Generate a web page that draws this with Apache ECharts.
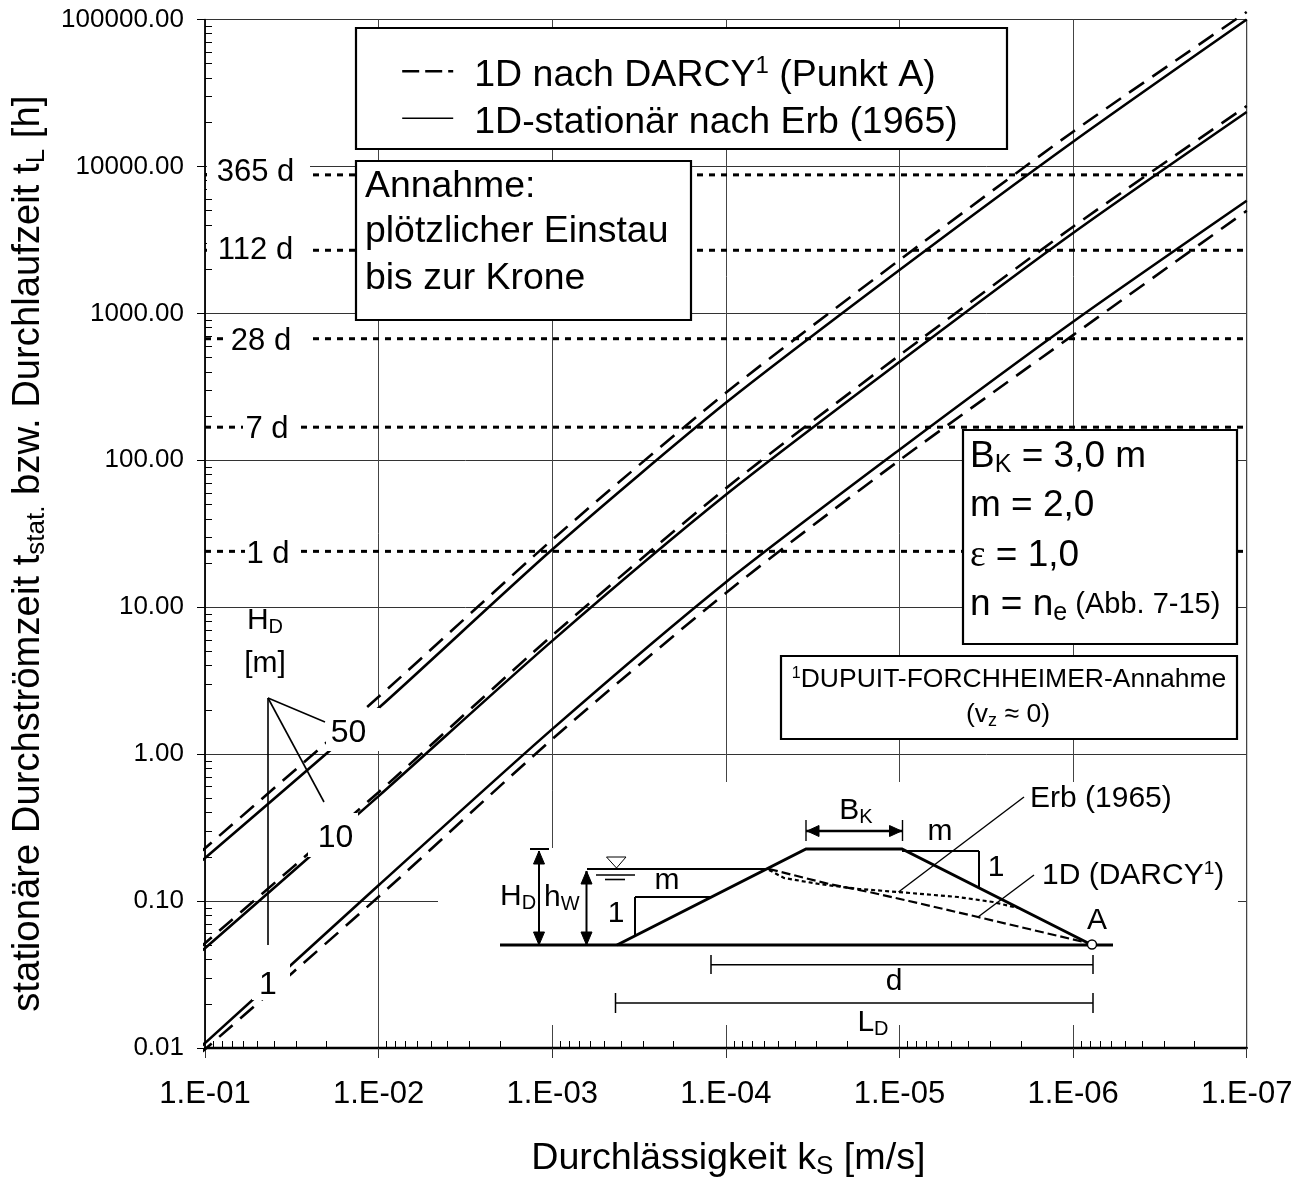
<!DOCTYPE html>
<html>
<head>
<meta charset="utf-8">
<script src="https://cdn.jsdelivr.net/npm/echarts@6/dist/echarts.min.js"></script>
<style>html,body{margin:0;padding:0;background:#fff}#c{width:1291px;height:1179px}</style>
</head>
<body>
<div id="c"></div>
<script>
// Data
const kValues   = [0.11, 0.1, 0.01, 0.001, 0.0001, 0.00001, 0.000001, 0.0000001];
const erb50     = [0.18, 0.196, 2.06, 24.7, 246, 1972, 14730, 100000];
const darcy50   = [0.21, 0.229, 2.455, 28.8, 288, 2305, 17230, 112500];
const erb10     = [0.044, 0.0478, 0.518, 5.9, 58.2, 466, 3520, 23450];
const darcy10   = [0.0475, 0.0517, 0.551, 6.43, 64.4, 518, 3885, 25770];
const erb1      = [0.0099, 0.0108, 0.128, 1.48, 14.8, 118, 877, 5840];
const darcy1    = [0.009, 0.0098, 0.107, 1.265, 12.5, 100, 711, 4992];
const dayHours  = [8760, 2688, 672, 168, 24];
const dayLabels = ['365 d', '112 d', '28 d', '7 d', '1 d'];
const xTickLabels = ['1.E-07','1.E-06','1.E-05','1.E-04','1.E-03','1.E-02','1.E-01'];
const yTickLabels = ['0.01','0.10','1.00','10.00','100.00','1000.00','10000.00','100000.00'];
const minorMultipliers = [2,3,4,5,6,7,8,9];
const xDecades = [-7,-6,-5,-4,-3,-2];
const yDecades = [-2,-1,0,1,2,3,4];
const nameDarcy = '1D nach DARCY (Punkt A)';
const nameErb = '1D-stationär nach Erb (1965)';

const FONT = '"Liberation Sans", Arial, sans-serif';
const pairs = ys => kValues.map((k, i) => [k, ys[i]]);
const minorOf = decades => decades.flatMap(e => minorMultipliers.map(m => m * Math.pow(10, e)));

const curve = (name, ys, dashed) => ({
  name, type: 'line', data: pairs(ys), symbol: 'none', clip: false, silent: true, z: 3, smooth: 0.25,
  itemStyle: { color: '#000' },
  lineStyle: { color: '#000', width: 2.6, type: dashed ? [18, 10] : 'solid' }
});
const dayLine = h => ({
  type: 'line', data: [[0.1, h], [1e-7, h]], symbol: 'none', silent: true, z: 2,
  itemStyle: { color: '#000' },
  lineStyle: { color: '#000', width: 3, type: [6, 6] }
});

// annotation helpers
const el = [];
const rich = size => ({
  a: { fontSize: size, fontFamily: FONT, lineHeight: size * 1.1, fill: '#000', color: '#000' },
  s: { fontSize: Math.round(size * 0.68), fontFamily: FONT, lineHeight: Math.round(size * 0.68), verticalAlign: 'bottom', color: '#000', fill: '#000' },
  u: { fontSize: Math.round(size * 0.62), fontFamily: FONT, lineHeight: Math.round(size * 0.62), verticalAlign: 'top', color: '#000', fill: '#000' },
  g: { fontSize: size, fontFamily: '"Liberation Serif", serif', lineHeight: size * 1.1, color: '#000', fill: '#000' },
  m: { fontSize: Math.round(size * 0.79), fontFamily: FONT, lineHeight: size * 1.1, color: '#000', fill: '#000' }
});
const text = (x, y, t, size, align) => el.push({
  type: 'text', z: 40, silent: true,
  style: { x, y, text: t, rich: rich(size), align: align || 'left', verticalAlign: 'middle', fill: '#000',
           fontFamily: FONT, fontSize: size }
});
const mask = (x, y, w, h) => el.push({
  type: 'rect', z: 10, silent: true, shape: { x, y, width: w, height: h }, style: { fill: '#fff' }
});
const box = (x, y, w, h) => el.push({
  type: 'rect', z: 20, silent: true, shape: { x, y, width: w, height: h },
  style: { fill: '#fff', stroke: '#000', lineWidth: 2.2 }
});
const ln = (x1, y1, x2, y2, w, dash) => el.push({
  type: 'line', z: 30, silent: true, shape: { x1, y1, x2, y2 },
  style: { stroke: '#000', lineWidth: w || 1.5, lineDash: dash || null }
});
const poly = (points, w, dash, smooth) => el.push({
  type: 'polyline', z: 30, silent: true, shape: { points, smooth: smooth || 0 },
  style: { stroke: '#000', fill: null, lineWidth: w, lineDash: dash || null }
});
const tri = (points, fill) => el.push({
  type: 'polygon', z: 31, silent: true, shape: { points },
  style: { fill: fill || '#000', stroke: '#000', lineWidth: 1 }
});

// white cut-outs behind labels and the inset
mask(207, 156, 103, 34);   // 365 d
mask(207, 232, 106, 34);   // 112 d
mask(228, 322, 82, 36);    // 28 d
mask(243, 411, 53, 34);    // 7 d
mask(245, 536, 53, 34);    // 1 d
mask(326, 708, 54, 43);    // 50
mask(308, 813, 50, 44);    // 10
mask(252, 962, 38, 38);    // 1
mask(553, 782, 685, 243);  // inset
mask(438, 853, 120, 172);
mask(500, 848, 60, 10);

// day labels
dayLabels.forEach((t, i) => {
  const pos = [[255.5, 172], [255.5, 250], [261, 341], [267, 429], [268, 554]][i];
  text(pos[0], pos[1], '{a|' + t + '}', 31, 'center');
});

// boxes
box(356, 28, 651, 121);
box(356, 161, 335, 159);
text(365, 187, '{a|Annahme:}', 37.4);
text(365, 232, '{a|plötzlicher Einstau}', 37.4);
text(365, 279, '{a|bis zur Krone}', 37.4);
box(963, 430, 274, 214);
text(970, 457, '{a|B}{s|K}{a| = 3,0 m}', 37);
text(970, 506, '{a|m = 2,0}', 37);
text(970, 556, '{g|ε}{a| = 1,0}', 37);
text(970, 605, '{a|n = n}{s|e}{m| (Abb. 7-15)}', 37);
box(781, 656, 456, 83);
text(1009, 680, '{u|1}{a|DUPUIT-FORCHHEIMER-Annahme}', 26.5, 'center');
text(1008, 715, '{a|(v}{s|z}{a| ≈ 0)}', 26.5, 'center');

// H_D key
text(265, 621, '{a|H}{s|D}', 30, 'center');
text(265, 664, '{a|[m]}', 30, 'center');
ln(268, 698, 268, 945, 1.6);
ln(268, 698, 325, 722, 1.6);
ln(268, 698, 324, 802, 1.6);
text(348.5, 733, '{a|50}', 32, 'center');
text(335.5, 838, '{a|10}', 32, 'center');
text(268, 985, '{a|1}', 32, 'center');

// inset: dam section
poly([[500, 945], [1113, 945]], 3);
poly([[617, 945], [806, 849], [902, 849], [1092, 945]], 3);
ln(587, 869, 769, 869, 2);
ln(635, 897, 712, 897, 2);
ln(635, 897, 635, 935, 2);
ln(902, 851, 979, 851, 2);
ln(979, 851, 979, 887, 2);
tri([[606.5, 857], [626, 857], [616.5, 868]], '#fff');
ln(596, 875, 635, 875, 1.6);
ln(605, 879.5, 625, 879.5, 1.6);
// H_D and h_W arrows
ln(539, 851, 539, 945, 2);
ln(530, 849, 549, 849, 2);
tri([[539, 851], [533.5, 864], [544.5, 864]]);
tri([[539, 945], [533.5, 932], [544.5, 932]]);
ln(586.5, 871, 586.5, 945, 2);
tri([[586.5, 871], [581, 884], [592, 884]]);
tri([[586.5, 945], [581, 932], [592, 932]]);
// B_K arrow
ln(806, 831, 902, 831, 2.4);
ln(806, 820, 806, 841, 1.4);
ln(902.5, 820, 902.5, 841, 1.4);
tri([[807, 831], [819, 825.5], [819, 836.5]]);
tri([[901.5, 831], [889.5, 825.5], [889.5, 836.5]]);
// seepage lines
poly([[769, 869], [829, 884], [869, 892], [909, 901], [978, 917], [1033, 930], [1088, 943]], 2.2, [9, 4]);
poly([[769, 870], [784, 878], [819, 884], [859, 889], [898, 892], [958, 897], [993, 902], [1018, 908]], 2.2, [4, 3]);
// leaders
ln(898.5, 892, 1024, 797, 1.4);
ln(978, 917, 1034, 875, 1.4);
// dimensions
ln(711, 964.7, 1093, 964.7, 1.5);
ln(711, 955, 711, 974, 1.5);
ln(1093, 955, 1093, 974, 1.5);
ln(615.5, 1003, 1093, 1003, 1.5);
ln(615.5, 993, 615.5, 1013, 1.5);
ln(1093, 993, 1093, 1013, 1.5);
el.push({ type: 'circle', z: 32, silent: true, shape: { cx: 1092, cy: 944.5, r: 4.5 }, style: { fill: '#fff', stroke: '#000', lineWidth: 1.4 } });
// inset labels
text(856, 811, '{a|B}{s|K}', 30, 'center');
text(940, 832, '{a|m}', 30, 'center');
text(996, 868, '{a|1}', 30, 'center');
text(1030, 799, '{a|Erb (1965)}', 30);
text(1042, 876, '{a|1D (DARCY}{u|1}{a|)}', 30);
text(1097, 921, '{a|A}', 30, 'center');
text(500, 897, '{a|H}{s|D}', 30);
text(544, 898, '{a|h}{s|W}', 30);
text(667, 881, '{a|m}', 30, 'center');
text(616, 914, '{a|1}', 30, 'center');
text(894, 982, '{a|d}', 30, 'center');
text(873, 1023, '{a|L}{s|D}', 30, 'center');

const richTitle = size => ({
  t: { fontSize: size, fontFamily: FONT, color: '#000', lineHeight: size + 5 },
  s: { fontSize: Math.round(size * 0.68), fontFamily: FONT, color: '#000', lineHeight: Math.round(size * 0.68), verticalAlign: 'bottom' },
  u: { fontSize: Math.round(size * 0.65), fontFamily: FONT, color: '#000', lineHeight: Math.round(size * 0.65), verticalAlign: 'top' }
});

const option = {
  animation: false,
  backgroundColor: '#fff',
  textStyle: { fontFamily: FONT, color: '#000' },
  grid: { left: 205, top: 19.5, width: 1041.7, height: 1028.5, show: true, borderColor: '#000', borderWidth: 1,
          backgroundColor: 'transparent', containLabel: false, outerBoundsMode: 'none' },
  legend: {
    show: true, z: 50, left: 401, top: 54, orient: 'vertical', padding: 0, itemGap: 9,
    itemWidth: 51, itemHeight: 20, selectedMode: false,
    data: [
      { name: nameDarcy, itemStyle: { opacity: 0 }, lineStyle: { type: [17, 6], width: 2.4, color: '#000' } },
      { name: nameErb, itemStyle: { opacity: 0 }, lineStyle: { type: 'solid', width: 1.6, color: '#000' } }
    ],
    textStyle: { fontSize: 37.5, fontFamily: FONT, color: '#000', rich: richTitle(37.5), padding: [8, 0, 0, 16] },
    formatter: n => n === nameDarcy ? '{t|1D nach DARCY}{u|1}{t| (Punkt A)}' : '{t|' + n + '}'
  },
  xAxis: [{
    type: 'log', logBase: 10, inverse: true, min: 1e-7, max: 0.1, interval: 1, position: 'bottom',
    name: '{t|Durchlässigkeit k}{s|S}{t| [m/s]}', nameLocation: 'middle', nameGap: 89,
    nameTextStyle: { rich: richTitle(37.7), fontSize: 37.7, fontFamily: FONT, color: '#000', padding: [0, 0, 0, 5] },
    axisLine: { show: true, lineStyle: { color: '#000', width: 2.4 } },
    axisTick: { show: true, length: 10, lineStyle: { color: '#333', width: 1 } },
    minorTick: { show: false },
    axisLabel: { show: true, fontSize: 31, color: '#000', fontFamily: FONT, margin: 31, hideOverlap: false,
      showMinLabel: true, showMaxLabel: true,
      formatter: v => xTickLabels[Math.round(Math.log10(v)) + 7] },
    splitLine: { show: true, lineStyle: { color: '#444', width: 1 } },
    minorSplitLine: { show: false }
  }, {
    type: 'log', logBase: 10, inverse: true, min: 1e-7, max: 0.1, interval: 1, position: 'bottom',
    axisLine: { show: false }, axisLabel: { show: false }, splitLine: { show: false },
    axisTick: { show: true, inside: true, length: 7, customValues: minorOf(xDecades), lineStyle: { color: '#000', width: 1 } }
  }],
  yAxis: [{
    type: 'log', logBase: 10, min: 0.01, max: 100000, interval: 1, position: 'left',
    name: '{t|stationäre Durchströmzeit t}{s|stat.}{t| bzw. Durchlaufzeit t}{s|L}{t| [h]}',
    nameLocation: 'middle', nameRotate: 90, nameGap: 149,
    nameTextStyle: { rich: richTitle(38.25), fontSize: 38.25, fontFamily: FONT, color: '#000', padding: [0, 40, 0, 0] },
    axisLine: { show: true, lineStyle: { color: '#000', width: 1.6 } },
    axisTick: { show: true, length: 8, lineStyle: { color: '#000', width: 1 } },
    axisLabel: { show: true, fontSize: 26, color: '#000', fontFamily: FONT, margin: 21, hideOverlap: false,
      showMinLabel: true, showMaxLabel: true,
      formatter: v => yTickLabels[Math.round(Math.log10(v)) + 2] },
    splitLine: { show: true, lineStyle: { color: '#333', width: 1 } }
  }, {
    type: 'log', logBase: 10, min: 0.01, max: 100000, interval: 1, position: 'left',
    axisLine: { show: false }, axisLabel: { show: false }, splitLine: { show: false },
    axisTick: { show: true, inside: true, length: 7, customValues: minorOf(yDecades), lineStyle: { color: '#000', width: 1 } }
  }],
  graphic: { elements: el },
  series: [
    curve(nameDarcy, darcy50, true),
    curve(nameErb, erb50, false),
    curve(nameDarcy, darcy10, true),
    curve(nameErb, erb10, false),
    curve(nameDarcy, darcy1, true),
    curve(nameErb, erb1, false),
    ...dayHours.map(dayLine)
  ]
};
echarts.init(document.getElementById('c'), null, { renderer: 'canvas' }).setOption(option);
</script>
</body>
</html>
